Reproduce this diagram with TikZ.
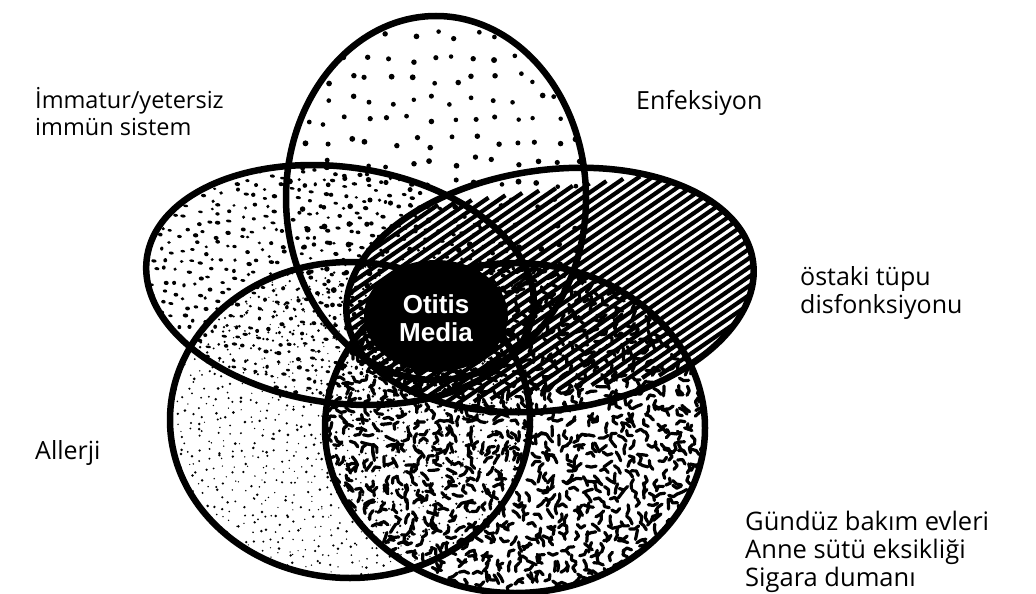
\documentclass[tikz,border=0pt]{standalone}
\usepackage{fontspec}
\setmainfont{Open Sans}
\newfontfamily\omfont{Liberation Sans}
\begin{document}
\begin{tikzpicture}[x=1pt,y=-1pt,
  outline/.style={line width=6.5pt, draw=black},
  lbl/.style={font=\fontsize{25}{28}\selectfont, align=left, anchor=north west, inner sep=0pt},
  worm/.style={line width=3.2pt, line cap=round, line join=round},
  hatch/.style={line width=4.2pt}]
\pgfmathsetseed{7}
\useasboundingbox[fill=white] (0,0) rectangle (1036,594);

% lower-left shape (Allerji): fine stipple
\begin{scope}[shift={(350,420)}]
  \clip (0,0) ellipse [x radius=180, y radius=158];
  \foreach \i in {-180,-171,...,180}{\foreach \j in {-160,-151,...,160}{
    \fill (\i+rand*4.5,\j+rand*4.5) circle [radius=0.6+rnd*0.9];}}
\end{scope}

% lower-right shape: worm texture
\begin{scope}[shift={(515,428)}]
  \clip (0,0) ellipse [x radius=190, y radius=165];
  \foreach \i in {-190,-180,...,190}{\foreach \j in {-165,-155,...,165}{
    \pgfmathsetmacro\a{rnd*360}\pgfmathsetmacro\b{\a+rand*80}
    \draw[worm] (\i+rand*4,\j+rand*4) -- ++(\a:5) -- ++(\b:5);}}
\end{scope}

% top shape: sparse dots
\begin{scope}[shift={(436,198)}]
  \clip (0,0) ellipse [x radius=150, y radius=182];
  \foreach \i in {-150,-129,...,150}{\foreach \j in {-182,-161,...,182}{
    \fill (\i+rand*6,\j+rand*6) circle [radius=2.2+rnd*0.8];}}
\end{scope}

% left shape: dense dots
\begin{scope}[shift={(340,285)},rotate=-8]
  \clip (0,0) ellipse [x radius=195, y radius=118];
  \foreach \i in {-195,-184,...,195}{\foreach \j in {-121,-110,...,121}{
    \fill (\i+rand*4,\j+rand*4) ellipse [x radius=1.6+rnd*1.2, y radius=1.3+rnd*0.9];}}
\end{scope}

% right shape: diagonal hatching
\begin{scope}[shift={(550,290)},rotate=8]
  \clip (0,0) ellipse [x radius=205, y radius=120];
  \foreach \k in {-520,-503,...,520}{\draw[hatch] (\k-200,100) -- (\k+200,-100);}
\end{scope}

% outlines
\draw[outline] (350,420) ellipse [x radius=180, y radius=158];
\draw[outline] (515,428) ellipse [x radius=190, y radius=165];
\draw[outline] (436,198) ellipse [x radius=150, y radius=182];
\begin{scope}[shift={(340,285)},rotate=-8]
  \draw[outline] (0,0) ellipse [x radius=195, y radius=118];
\end{scope}
\begin{scope}[shift={(550,290)},rotate=8]
  \draw[outline] (0,0) ellipse [x radius=205, y radius=120];
\end{scope}

% centre
\fill (436,316) ellipse [x radius=72, y radius=56];
\node[text=white, align=center, font=\omfont\bfseries\fontsize{26}{28}\selectfont, inner sep=0pt] (om) at (436,318) {Otitis\\Media};

% labels
\node[lbl, font=\fontsize{23.5}{27.5}\selectfont] (imm) at (35,87) {İmmatur/yetersiz\\immün sistem};
\node[lbl] (enf) at (636,90) {Enfeksiyon};
\node[lbl] (ost) at (800,266) {östaki tüpu\\disfonksiyonu};
\node[lbl] (all) at (35,440) {Allerji};
\node[lbl, font=\fontsize{25.5}{28}\selectfont] (gun) at (745,511) {Gündüz bakım evleri\\Anne sütü eksikliği\\Sigara dumanı};
\end{tikzpicture}
\end{document}
